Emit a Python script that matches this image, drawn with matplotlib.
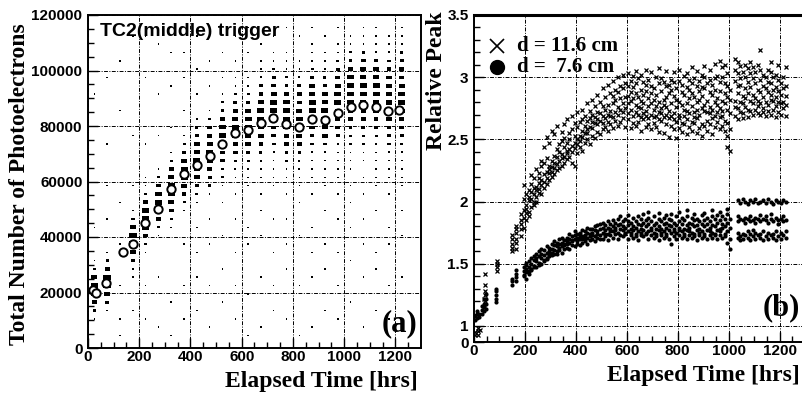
import numpy as np
import matplotlib
matplotlib.use("Agg")
from matplotlib import pyplot as plt
from matplotlib.patches import Rectangle
from matplotlib.collections import PatchCollection

# ---------- panel (a): photoelectrons vs time ----------
# mean values (open markers)
mean_t = [18, 30, 72, 135, 175, 222, 272, 325, 374, 425, 476, 525, 573, 624,
          674, 721, 772, 823, 873, 924, 975, 1025, 1072, 1123, 1170, 1216]
mean_pe = [21000, 20000, 23500, 34500, 37500, 45000, 50200, 57200, 62600, 65900,
           69200, 73500, 77400, 78600, 81000, 82800, 80600, 79700, 82600, 82100,
           84600, 86700, 87400, 86700, 85300, 85800]

# 2d histogram boxes: one column every 50 hrs, y bins of 3000 (bottom -> top),
# digit = box size level
col_t = [25, 75, 125, 175, 225, 275, 325, 375, 425, 475, 525, 575, 625,
         675, 725, 775, 825, 875, 925, 975, 1025, 1075, 1125, 1175, 1225]
col_boxes = [
    "0001369973 1000100000 0000000000 1000000000",
    "0000147996 3100010001 0000100000 0010000000",
    "0101000100 0010000100 0000000010 0000100000",
    "0000100012 4799641001 0000010000 0000000100",
    "0001000100 0136898631 1000100000 0010000100",
    "0010000010 0001368975 2100010000 1000001000",
    "0100010000 0000135788 7531001000 0100010000",
    "0001000100 0010001357 8875310010 0010010000",
    "0000100010 0100100135 6787643100 1001000100",
    "0010000100 0010010013 4678765310 0100100010",
    "0000010001 0001000101 2456887542 1010010000",
    "0001000100 0100010010 1235678764 3110100100",
    "0100001000 0010100001 1234678865 3210010010",
    "0010000010 0001001010 1123567887 5421101000",
    "0000100100 0100010001 1112456788 7543110100",
    "0001000001 0010010010 1123567887 6421110010",
    "0100000100 0001000101 1223578876 5421100100",
    "0010000010 0100100010 1112456788 7643111010",
    "0000100001 0010001001 1112467887 6532110100",
    "0001000100 0100010010 1111245678 8764311010",
    "0000010000 1000100101 0111234567 8876421100",
    "0010000010 0010010010 1011234567 8877531110",
    "0000100001 0100001001 1111234567 8876421110",
    "0001000100 0010100010 1112345678 8765321100",
    "0010000010 0001001001 1112345678 8765432110",
]
col_width = 50
bin_height = 3000

# ---------- panel (b): relative peak vs time ----------
# d = 11.6 cm (crosses)
cross_t = [5, 15, 25, 40, 45, 90, 150, 165, 185,
           195, 205, 215, 225, 235, 245, 255, 265, 275, 285,
           295, 305, 315, 325, 335, 345, 355, 365, 375, 385,
           395, 405, 415, 425, 435, 445, 455, 465, 475, 485,
           495, 505, 515, 525, 535, 545, 555, 565, 575, 585,
           595, 605, 615, 625, 635, 645, 655, 665, 675, 685,
           695, 705, 715, 725, 735, 745, 755, 765, 775, 785,
           795, 805, 815, 825, 835, 845, 855, 865, 875, 885,
           895, 905, 915, 925, 935, 945, 955, 965, 975, 985,
           995, 1005, 1025, 1035, 1045, 1055, 1065, 1075, 1085, 1095,
           1105, 1115, 1125, 1135, 1145, 1155, 1165, 1175, 1185, 1195,
           1205, 1215, 1225]
cross_y = [
    [0.93, 0.95], [0.96, 0.93, 0.98], [0.97], [1.15, 1.22],
    [1.2, 1.25, 1.28, 1.33, 1.42], [1.44, 1.47, 1.5, 1.52],
    [1.6, 1.63, 1.66, 1.7, 1.73], [1.62, 1.67, 1.7, 1.75, 1.78, 1.8],
    [1.72, 1.78, 1.82, 1.85, 1.9],
    # 195 - 285
    [1.79, 1.87, 1.93, 2.02, 2.13], [1.85, 1.91, 1.94, 2.06, 1.97],
    [1.92, 1.88, 2.01, 2.09, 2.04], [1.96, 2.08, 2.02, 2.14, 2.21],
    [2.0, 1.97, 2.11, 2.06, 2.19], [2.04, 2.12, 2.09, 2.26, 2.0],
    [2.1, 2.07, 2.19, 2.23, 2.15], [2.06, 2.17, 2.13, 2.29, 2.33],
    [2.16, 2.11, 2.22, 2.31, 2.44], [2.14, 2.24, 2.19, 2.35, 2.52],
    # 295 - 385
    [2.23, 2.17, 2.29, 2.26, 2.47], [2.2, 2.28, 2.33, 2.24, 2.57],
    [2.27, 2.22, 2.37, 2.31, 2.54], [2.25, 2.36, 2.3, 2.42, 2.61],
    [2.33, 2.27, 2.4, 2.46], [2.29, 2.38, 2.35, 2.49, 2.56],
    [2.36, 2.31, 2.44, 2.51, 2.62], [2.34, 2.41, 2.47, 2.39, 2.66],
    [2.42, 2.36, 2.5, 2.55], [2.31, 2.45, 2.4, 2.58, 2.69],
    # 395 - 485
    [2.29, 2.47, 2.53, 2.43, 2.63], [2.39, 2.5, 2.46, 2.6, 2.72],
    [2.44, 2.53, 2.49, 2.64], [2.41, 2.57, 2.52, 2.66, 2.74],
    [2.47, 2.55, 2.61, 2.69], [2.5, 2.58, 2.65, 2.55, 2.79],
    [2.46, 2.6, 2.67, 2.73], [2.53, 2.59, 2.7, 2.64, 2.82],
    [2.51, 2.63, 2.68, 2.77], [2.56, 2.62, 2.72, 2.66, 2.86],
    # 495 - 585
    [2.54, 2.65, 2.71, 2.8], [2.58, 2.69, 2.63, 2.77, 2.91],
    [2.6, 2.67, 2.74, 2.84], [2.57, 2.7, 2.78, 2.64, 2.94],
    [2.62, 2.73, 2.69, 2.87], [2.59, 2.68, 2.79, 2.85, 2.97],
    [2.65, 2.72, 2.82, 2.9], [2.61, 2.76, 2.7, 2.88, 3.0],
    [2.64, 2.74, 2.83, 2.93], [2.67, 2.79, 2.72, 2.91, 3.02],
    # 595 - 685
    [2.6, 2.75, 2.84, 2.95], [2.66, 2.79, 2.71, 2.93, 3.03, 2.85],
    [2.59, 2.74, 2.88, 2.81, 2.97], [2.69, 2.63, 2.83, 2.92, 3.01],
    [2.72, 2.61, 2.78, 2.95, 2.87, 3.05], [2.64, 2.76, 2.84, 2.7, 2.99],
    [2.57, 2.68, 2.81, 2.9, 2.75, 3.02], [2.71, 2.66, 2.86, 2.79, 2.96],
    [2.6, 2.73, 2.69, 2.89, 2.94, 3.06], [2.67, 2.77, 2.83, 2.62, 2.98],
    # 695 - 785
    [2.58, 2.7, 2.79, 2.87, 2.93, 3.04], [2.63, 2.74, 2.68, 2.91, 2.82],
    [2.69, 2.6, 2.77, 2.86, 3.0], [2.56, 2.72, 2.8, 2.66, 2.95, 3.07],
    [2.65, 2.75, 2.71, 2.89, 2.99], [2.55, 2.68, 2.82, 2.78, 2.96],
    [2.62, 2.7, 2.84, 2.93, 2.76, 3.05], [2.52, 2.67, 2.73, 2.87, 2.94],
    [2.61, 2.69, 2.79, 2.9, 2.98], [2.58, 2.71, 2.66, 2.85, 2.96, 3.04],
    # 795 - 885
    [2.51, 2.64, 2.76, 2.82, 2.91], [2.59, 2.7, 2.8, 2.67, 2.97, 3.06],
    [2.56, 2.63, 2.78, 2.88, 2.94], [2.62, 2.74, 2.69, 2.86, 3.01],
    [2.54, 2.66, 2.79, 2.73, 2.92, 3.03], [2.6, 2.71, 2.83, 2.9, 2.98],
    [2.57, 2.64, 2.77, 2.87, 2.95, 3.08], [2.63, 2.72, 2.68, 2.84, 2.99],
    [2.55, 2.67, 2.8, 2.74, 2.93, 3.05], [2.59, 2.7, 2.82, 2.89, 2.97],
    # 895 - 985
    [2.53, 2.62, 2.75, 2.85, 2.92, 3.02], [2.61, 2.73, 2.78, 2.91, 3.0, 3.09],
    [2.57, 2.65, 2.81, 2.72, 2.95], [2.62, 2.71, 2.76, 2.88, 2.98, 3.06],
    [2.54, 2.67, 2.74, 2.86, 2.94], [2.6, 2.69, 2.8, 2.9, 2.99, 3.11],
    [2.64, 2.72, 2.83, 2.78, 3.01], [2.58, 2.68, 2.75, 2.89, 2.96, 3.13],
    [2.61, 2.73, 2.81, 2.69, 3.0, 3.08], [2.57, 2.65, 2.79, 2.87, 2.95, 3.1],
    # 995 - 1095
    [2.44, 2.53, 2.63, 2.74, 2.84, 2.93, 3.03], [2.41, 2.58, 2.71, 2.82, 2.9],
    [2.69, 2.81, 2.76, 2.97, 3.06, 3.15], [2.66, 2.87, 2.75, 2.93, 3.03, 3.12],
    [2.72, 2.8, 2.94, 2.99, 3.09], [2.67, 2.79, 2.85, 2.71, 3.04],
    [2.76, 2.83, 2.91, 3.0, 3.1], [2.68, 2.74, 2.87, 2.96, 3.07],
    [2.73, 2.81, 2.92, 3.03, 3.12], [2.7, 2.79, 2.86, 2.99, 3.08],
    # 1105 - 1225
    [2.74, 2.83, 2.95, 3.04], [2.71, 2.81, 2.9, 2.77, 3.1],
    [2.7, 2.79, 2.88, 2.98, 3.06, 3.22], [2.75, 2.84, 2.93, 3.02, 2.72],
    [2.69, 2.8, 2.91, 3.0], [2.73, 2.78, 2.88, 2.96, 3.06],
    [2.7, 2.82, 2.86, 2.95, 3.04, 3.12], [2.74, 2.81, 2.9, 3.0],
    [2.68, 2.77, 2.84, 2.92, 3.02], [2.72, 2.8, 2.89, 2.98, 3.1],
    [2.7, 2.79, 2.86, 2.95], [2.75, 2.8, 2.91, 3.0], [2.69, 2.78, 2.85, 2.93, 3.08],
]

# d = 7.6 cm (filled dots)
dot_t = [5, 12, 20, 30, 40, 48, 88, 148, 165,
         195, 205, 215, 225, 235, 245, 255, 265, 275, 285,
         295, 305, 315, 325, 335, 345, 355, 365, 375, 385,
         395, 405, 415, 425, 435, 445, 455, 465, 475, 485,
         495, 505, 515, 525, 535, 545, 555, 565, 575, 585,
         595, 605, 615, 625, 635, 645, 655, 665, 675, 685,
         695, 705, 715, 725, 735, 745, 755, 765, 775, 785,
         795, 805, 815, 825, 835, 845, 855, 865, 875, 885,
         895, 905, 915, 925, 935, 945, 955, 965, 975, 985,
         995, 1005, 1035, 1045, 1055, 1065, 1075, 1085, 1095, 1105,
         1115, 1125, 1135, 1145, 1155, 1165, 1175, 1185, 1195, 1205,
         1215, 1225]
dot_y = [
    [1.05, 1.08], [1.06, 1.1, 1.12], [1.07, 1.1], [1.1, 1.13, 1.16],
    [1.12, 1.15, 1.18, 1.22], [1.14, 1.18, 1.22, 1.26],
    [1.19, 1.22, 1.25, 1.28, 1.3], [1.33, 1.36, 1.38],
    [1.36, 1.39, 1.42, 1.45],
    # 195 - 285
    [1.4, 1.44, 1.47, 1.41], [1.38, 1.43, 1.49, 1.46, 1.51],
    [1.44, 1.47, 1.52, 1.42], [1.46, 1.5, 1.45, 1.55],
    [1.48, 1.53, 1.47, 1.56], [1.47, 1.52, 1.55, 1.58],
    [1.51, 1.49, 1.56, 1.6], [1.5, 1.55, 1.58, 1.62],
    [1.53, 1.57, 1.52, 1.61], [1.55, 1.59, 1.54, 1.64],
    # 295 - 385
    [1.56, 1.6, 1.63, 1.58], [1.57, 1.62, 1.59, 1.66],
    [1.58, 1.61, 1.65, 1.68], [1.6, 1.64, 1.58, 1.67],
    [1.61, 1.66, 1.63, 1.7], [1.59, 1.64, 1.67, 1.71],
    [1.62, 1.66, 1.69, 1.65], [1.63, 1.68, 1.71, 1.66],
    [1.62, 1.67, 1.7, 1.74], [1.65, 1.69, 1.72, 1.68],
    # 395 - 485
    [1.64, 1.7, 1.73, 1.76], [1.66, 1.71, 1.68, 1.74],
    [1.65, 1.7, 1.75, 1.72], [1.67, 1.72, 1.77, 1.7],
    [1.68, 1.73, 1.76, 1.71], [1.66, 1.71, 1.75, 1.79],
    [1.69, 1.74, 1.72, 1.78], [1.7, 1.75, 1.78, 1.73],
    [1.68, 1.72, 1.77, 1.8], [1.71, 1.76, 1.74, 1.81],
    # 495 - 585
    [1.7, 1.73, 1.78, 1.82], [1.7, 1.75, 1.79, 1.83],
    [1.72, 1.77, 1.74, 1.81], [1.69, 1.74, 1.79, 1.84],
    [1.73, 1.78, 1.76, 1.82], [1.71, 1.76, 1.8, 1.85],
    [1.74, 1.79, 1.77, 1.83], [1.7, 1.75, 1.81, 1.86],
    [1.73, 1.78, 1.82, 1.88], [1.72, 1.77, 1.8, 1.84],
    # 595 - 685
    [1.75, 1.79, 1.74, 1.86], [1.7, 1.76, 1.81, 1.89, 1.84],
    [1.73, 1.78, 1.83, 1.75], [1.71, 1.77, 1.8, 1.87],
    [1.74, 1.79, 1.84, 1.72], [1.69, 1.76, 1.82, 1.88],
    [1.73, 1.78, 1.81, 1.86, 1.75], [1.72, 1.77, 1.83, 1.9],
    [1.75, 1.8, 1.74, 1.85], [1.7, 1.76, 1.82, 1.87, 1.92],
    # 695 - 785
    [1.73, 1.79, 1.84, 1.77], [1.71, 1.75, 1.81, 1.88],
    [1.74, 1.78, 1.83, 1.72], [1.69, 1.77, 1.8, 1.86, 1.91],
    [1.73, 1.78, 1.84, 1.75], [1.71, 1.76, 1.82, 1.87],
    [1.74, 1.79, 1.83, 1.72, 1.89], [1.7, 1.77, 1.81, 1.86],
    [1.66, 1.75, 1.8, 1.85, 1.9], [1.72, 1.78, 1.83, 1.76],
    # 795 - 885
    [1.7, 1.75, 1.81, 1.88], [1.73, 1.79, 1.84, 1.77, 1.92],
    [1.71, 1.76, 1.82, 1.87], [1.74, 1.78, 1.85, 1.72],
    [1.7, 1.77, 1.81, 1.88, 1.93], [1.73, 1.79, 1.83, 1.76],
    [1.71, 1.75, 1.82, 1.87], [1.74, 1.8, 1.85, 1.72, 1.9],
    [1.69, 1.77, 1.81, 1.86], [1.73, 1.78, 1.84, 1.75],
    # 895 - 985
    [1.71, 1.76, 1.82, 1.89], [1.74, 1.8, 1.85, 1.72, 1.91],
    [1.7, 1.77, 1.82, 1.87], [1.73, 1.79, 1.84, 1.76],
    [1.71, 1.75, 1.81, 1.88, 1.93], [1.74, 1.8, 1.86, 1.73],
    [1.7, 1.77, 1.83, 1.89], [1.73, 1.78, 1.85, 1.76, 1.92],
    [1.71, 1.79, 1.82, 1.88], [1.74, 1.8, 1.86, 1.72],
    # 995 - 1105
    [1.67, 1.76, 1.83, 1.9, 1.94], [1.62, 1.7, 1.79, 1.86],
    [1.71, 1.75, 1.84, 1.88, 2.01], [1.72, 1.86, 1.99, 1.69],
    [1.7, 1.74, 1.85, 2.02], [1.73, 1.83, 1.87, 2.0],
    [1.71, 1.76, 1.86, 1.98], [1.69, 1.74, 1.84, 1.88, 2.01],
    [1.72, 1.85, 2.0, 1.77], [1.7, 1.75, 1.83, 1.87, 2.02],
    # 1115 - 1225
    [1.73, 1.86, 1.99], [1.71, 1.74, 1.84, 1.89, 2.0],
    [1.69, 1.76, 1.86, 2.01], [1.72, 1.85, 1.88, 1.99],
    [1.7, 1.75, 1.83, 2.02], [1.73, 1.86, 1.9, 2.0],
    [1.71, 1.74, 1.84, 1.98], [1.69, 1.76, 1.87, 2.01],
    [1.72, 1.85, 1.82, 2.0], [1.7, 1.75, 1.86, 1.99],
    [1.73, 1.84, 1.88, 2.01], [1.71, 1.76, 1.85, 2.0],
]
assert len(cross_t) == len(cross_y) and len(dot_t) == len(dot_y)

legend_labels = ["d = 11.6 cm", "d =  7.6 cm"]
left_yticks = [0, 20000, 40000, 60000, 80000, 100000, 120000]
right_yticks = [0.871, 1, 1.5, 2, 2.5, 3, 3.5]
right_yticklabels = ["0", "1", "1.5", "2", "2.5", "3", "3.5"]
xticks = [0, 200, 400, 600, 800, 1000, 1200]

serif = ["Liberation Serif", "DejaVu Serif"]
sans = ["Liberation Sans", "DejaVu Sans"]
grid_ls = (0, (4, 1.5, 1, 1.5))

fig = plt.figure(figsize=(8.03, 3.94), dpi=100)
ax1 = fig.add_axes([88 / 803, 46 / 394, 333 / 803, 333 / 394])
ax2 = fig.add_axes([474 / 803, 52 / 394, 331 / 803, 327 / 394])


def style_axis(ax):
    ax.tick_params(which="both", direction="in", top=False, right=False,
                   labelsize=11)
    ax.tick_params(axis="x", which="both", pad=1.5)
    ax.tick_params(axis="y", which="both", pad=4)
    ax.tick_params(which="major", length=7, width=1)
    ax.tick_params(which="minor", length=4, width=1)
    for lab in ax.get_xticklabels() + ax.get_yticklabels():
        lab.set_fontfamily(sans)
        lab.set_fontweight("bold")
    for sp in ax.spines.values():
        sp.set_linewidth(1.4)
    ax.grid(True, which="major", color="black", linestyle=grid_ls, linewidth=0.7)
    ax.set_axisbelow(True)


# ---- panel (a)
boxes = []
for t, s in zip(col_t, col_boxes):
    levels = s.replace(" ", "")
    for i, ch in enumerate(levels):
        lv = int(ch)
        if lv == 0:
            continue
        fw = 0.12 + 0.48 * (lv - 1) / 8
        fh = 0.18 + 0.42 * (lv - 1) / 8
        w = fw * col_width
        h = fh * bin_height
        yc = (i + 0.5) * bin_height
        boxes.append(Rectangle((t - w / 2, yc - h / 2), w, h))
ax1.add_collection(PatchCollection(boxes, facecolor="black", edgecolor="none", zorder=2))
ax1.plot(mean_t, mean_pe, linestyle="none", marker="o", ms=6, mfc="white",
         mec="black", mew=1.4, zorder=3)
ax1.set_xlim(0, 1300)
ax1.set_ylim(0, 120000)
ax1.set_xticks(xticks)
ax1.set_xticks(np.arange(0, 1300, 50), minor=True)
ax1.set_yticks(left_yticks)
ax1.set_yticks(np.arange(0, 120001, 5000), minor=True)
style_axis(ax1)
ax1.text(0.035, 0.975, "TC2(middle) trigger", transform=ax1.transAxes,
         ha="left", va="top", fontsize=14, fontweight="bold", family=sans)
ax1.text(0.99, 0.03, "(a)", transform=ax1.transAxes, ha="right", va="bottom",
         fontsize=22, fontweight="bold", family=serif)

# ---- panel (b)
cx = [t for t, ys in zip(cross_t, cross_y) for _ in ys]
cy = [y for ys in cross_y for y in ys]
dx = [t for t, ys in zip(dot_t, dot_y) for _ in ys]
dy = [y for ys in dot_y for y in ys]
ax2.plot(cx, cy, linestyle="none", marker="x", ms=3.2, mew=0.9, color="black", zorder=3)
ax2.plot(dx, dy, linestyle="none", marker="o", ms=3.0, mew=0, color="black", zorder=3)
ax2.set_xlim(0, 1300)
ax2.set_ylim(0.871, 3.5)
ax2.set_xticks(xticks)
ax2.set_xticks(np.arange(0, 1300, 50), minor=True)
ax2.set_yticks(right_yticks)
ax2.set_yticklabels(right_yticklabels)
ax2.set_yticks(np.arange(1.0, 3.5, 0.1), minor=True)
style_axis(ax2)
ax2.spines["top"].set_linewidth(2.2)
ax2.plot([0.07], [0.905], transform=ax2.transAxes, marker="x", ms=10, mew=1.2,
         color="black", clip_on=False)
ax2.plot([0.07], [0.842], transform=ax2.transAxes, marker="o", ms=10,
         color="black", clip_on=False)
ax2.text(0.13, 0.905, legend_labels[0], transform=ax2.transAxes, ha="left",
         va="center", fontsize=15, fontweight="bold", family=serif)
ax2.text(0.13, 0.842, legend_labels[1], transform=ax2.transAxes, ha="left",
         va="center", fontsize=15, fontweight="bold", family=serif)
ax2.text(0.985, 0.06, "(b)", transform=ax2.transAxes, ha="right", va="bottom",
         fontsize=22, fontweight="bold", family=serif)

# axis titles
fig.text(418 / 803, 1 - 382 / 394, "Elapsed Time [hrs]", ha="right", va="center",
         fontsize=17, fontweight="bold", family=serif)
fig.text(800 / 803, 1 - 375 / 394, "Elapsed Time [hrs]", ha="right", va="center",
         fontsize=17, fontweight="bold", family=serif)
fig.text(20 / 803, 1 - 184 / 394, "Total Number of Photoelectrons", rotation=90,
         ha="center", va="center", fontsize=17, fontweight="bold", family=serif)
fig.text(437 / 803, 1 - 12 / 394, "Relative Peak", rotation=90, ha="center",
         va="top", fontsize=17, fontweight="bold", family=serif)

fig.savefig("out.png", dpi=100)
